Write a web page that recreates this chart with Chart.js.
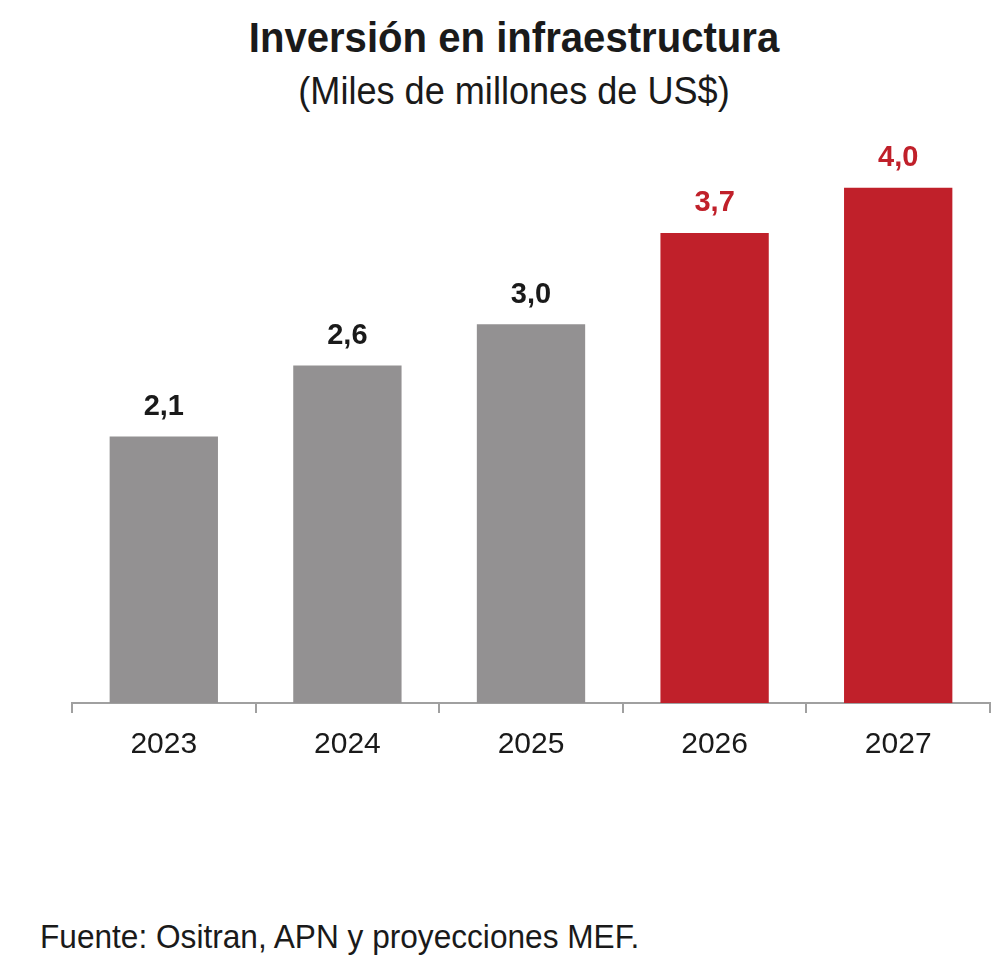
<!DOCTYPE html>
<html><head><meta charset="utf-8">
<script src="https://cdn.jsdelivr.net/npm/chart.js@4"></script>
<style>
body{margin:0;background:#fff;width:1004px;height:974px;position:relative;overflow:hidden;font-family:"Liberation Sans",Arial,sans-serif;color:#1a1a1a}
#t{position:absolute;top:14px;left:0;width:1028px;text-align:center;font-weight:bold;font-size:42px;transform:scaleX(0.955)}
#s{position:absolute;top:70px;left:0;width:1028px;text-align:center;font-size:38px;transform:scaleX(0.95)}
#f{position:absolute;top:917px;left:40px;font-size:34px;transform:scaleX(0.93);transform-origin:0 0}
#w{position:absolute;left:0;top:0;width:1004px;height:780px}
</style></head><body>
<div id="t">Inversión en infraestructura</div>
<div id="s">(Miles de millones de US$)</div>
<div id="w"><canvas id="c"></canvas></div>
<div id="f">Fuente: Ositran, APN y proyecciones MEF.</div>
<script>
const categories=["2023","2024","2025","2026","2027"];
const values=[2.07,2.62,2.94,3.65,4.0];
const labels=["2,1","2,6","3,0","3,7","4,0"];
const grey="#939192", red="#C0202A";
const colors=categories.map((c,i)=>i<3?grey:red);
const lbl={id:"lbl",afterDatasetsDraw(ch){const ctx=ch.ctx;ch.getDatasetMeta(0).data.forEach((b,i)=>{ctx.save();ctx.font="bold 29px 'Liberation Sans',Arial";ctx.fillStyle=i<3?"#1a1a1a":red;ctx.textAlign="center";ctx.textBaseline="bottom";ctx.fillText(labels[i],b.x,b.y-15);ctx.restore();});}};
new Chart(document.getElementById("c"),{type:"bar",
data:{labels:categories,datasets:[{data:values,backgroundColor:colors,categoryPercentage:1,barPercentage:0.59}]},
options:{responsive:true,maintainAspectRatio:false,animation:false,
layout:{padding:{top:59,left:72,right:14,bottom:0}},
plugins:{legend:{display:false},tooltip:{enabled:false}},
scales:{y:{display:false,min:0,max:5},
x:{afterFit(s){s.height=77;},grid:{offset:true,drawOnChartArea:false,tickLength:10,color:"#a0a0a0",lineWidth:2},border:{color:"#a0a0a0",width:2},
ticks:{color:"#1a1a1a",font:{size:30,family:"'Liberation Sans',Arial"},padding:14}}}},
plugins:[lbl]});
</script></body></html>
